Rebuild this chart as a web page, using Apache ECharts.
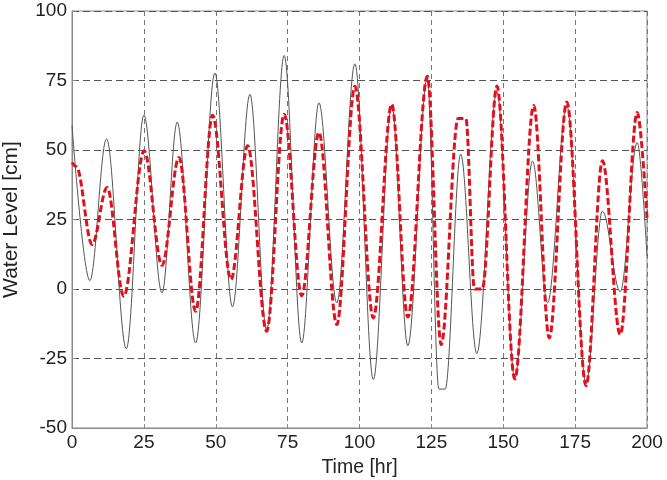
<!DOCTYPE html>
<html>
<head>
<meta charset="utf-8">
<script src="https://cdn.jsdelivr.net/npm/echarts@6/dist/echarts.min.js"></script>
<style>html,body{margin:0;padding:0;background:#fff}#c{width:667px;height:480px}</style>
</head>
<body>
<div id="c"></div>
<script>
// Observed (thin dark line)
const obsTime  = [0, 6.2, 12, 18.9, 25, 31.3, 36.6, 43, 49.7, 55.8, 61.9, 67.7, 73.8, 79.9, 85.9, 92.1, 98.4, 104.8, 111.2, 116.8, 123.6, 127.6, 129.8, 135.2, 140.8, 147.8, 154, 160.2, 165.4, 172.1, 178.8, 184.5, 190.7, 196.6, 200];
const obsLevel = [58.9, 3, 54, -21.5, 62.5, -1.4, 60, -19.4, 77.7, -6.4, 70, -15, 84, -19.4, 67, -5, 81, -32.6, 66, -20.4, 76, -36, -36, 48.5, -23.2, 71, -32, 46, -5, 66, -34, 28, -1, 52.7, 11.8];
// Simulated (red dashed line)
const simTime  = [0, 1.5, 7, 12.2, 18, 25.1, 31.3, 37.2, 43, 48.9, 55.3, 61.1, 67.7, 73.8, 79.9, 85.9, 92.1, 98.4, 104.8, 111.2, 116.8, 123.6, 128.4, 134.3, 137, 140, 142.7, 147.8, 154, 160.6, 166, 172.1, 178.8, 184.5, 190.7, 196.6, 200];
const simLevel = [45.5, 44, 16, 36.5, -2.6, 49.7, 8.5, 47.3, -8, 62.5, 3.4, 51.5, -15.2, 62.9, -2.4, 56.3, -12.8, 72.9, -10.4, 66.5, -10.1, 76.5, -20, 61.3, 61.3, 0, 0, 73, -32.4, 66, -17.6, 67.3, -34.8, 46.1, -16.4, 63.5, 25.6];
const xTicks = [0, 25, 50, 75, 100, 125, 150, 175, 200];
const yTicks = [-50, -25, 0, 25, 50, 75, 100];

const pair = (t, v) => t.map((x, i) => [x, v[i]]);
const chart = echarts.init(document.getElementById('c'), null, {renderer: 'canvas'});
const font = 'Liberation Sans, Arial, sans-serif';
chart.setOption({
  backgroundColor: '#fff',
  animation: false,
  grid: {left: 72, right: 20, top: 11, bottom: 52, outerBoundsMode: 'none', containLabel: false,
         show: true, borderColor: '#8a8a8a', borderWidth: 1, backgroundColor: 'transparent'},
  xAxis: {
    type: 'value', min: xTicks[0], max: xTicks[xTicks.length - 1], interval: 25,
    name: 'Time [hr]', nameLocation: 'middle', nameGap: 30,
    nameTextStyle: {fontFamily: font, fontSize: 19.5, color: '#222'},
    axisLine: {show: true, onZero: false, lineStyle: {color: '#8a8a8a'}},
    axisTick: {show: true, inside: true, length: 4, lineStyle: {color: '#8a8a8a'}},
    axisLabel: {fontFamily: font, fontSize: 19, color: '#222', margin: 5},
    splitLine: {show: true, lineStyle: {color: '#777', type: [5, 4], width: 1}}
  },
  yAxis: {
    type: 'value', min: yTicks[0], max: yTicks[yTicks.length - 1], interval: 25,
    name: 'Water Level [cm]', nameLocation: 'middle', nameGap: 50,
    nameTextStyle: {fontFamily: font, fontSize: 21, color: '#222'},
    axisLine: {show: true, onZero: false, lineStyle: {color: '#8a8a8a'}},
    axisTick: {show: true, inside: true, length: 4, lineStyle: {color: '#8a8a8a'}},
    axisLabel: {fontFamily: font, fontSize: 19, color: '#222', margin: 5},
    splitLine: {show: true, lineStyle: {color: '#555', type: [7, 4], width: 1}}
  },
  series: [
    {name: 'Observed', type: 'line', data: pair(obsTime, obsLevel), showSymbol: false, smooth: 0.35, smoothMonotone: 'x',
     lineStyle: {color: '#555', width: 1}, z: 2},
    {name: 'Simulated', type: 'line', data: pair(simTime, simLevel), showSymbol: false, smooth: 0.35, smoothMonotone: 'x',
     lineStyle: {color: '#e0101c', width: 3, type: [7, 3]}, z: 3}
  ]
});
</script>
</body>
</html>
